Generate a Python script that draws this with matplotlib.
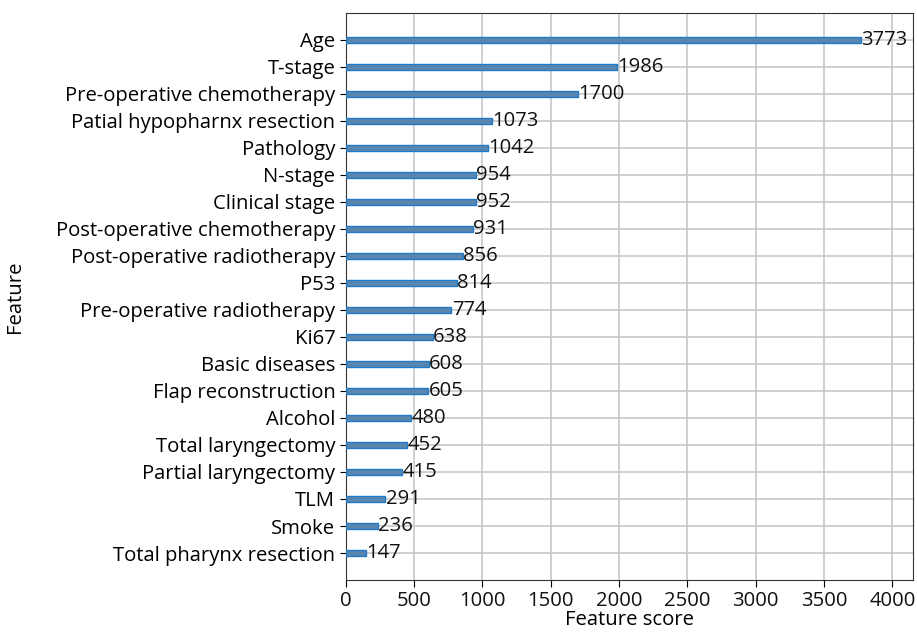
import matplotlib
matplotlib.use("Agg")
import matplotlib.pyplot as plt

plt.rcParams['font.family'] = ['Open Sans', 'DejaVu Sans']

features = [
    "Total pharynx resection", "Smoke", "TLM", "Partial laryngectomy",
    "Total laryngectomy", "Alcohol", "Flap reconstruction", "Basic diseases",
    "Ki67", "Pre-operative radiotherapy", "P53", "Post-operative radiotherapy",
    "Post-operative chemotherapy", "Clinical stage", "N-stage", "Pathology",
    "Patial hypopharnx resection", "Pre-operative chemotherapy", "T-stage", "Age",
]
scores = [147, 236, 291, 415, 452, 480, 605, 608, 638, 774,
          814, 856, 931, 952, 954, 1042, 1073, 1700, 1986, 3773]

FS = 14.6

fig = plt.figure(figsize=(9.17, 6.36), dpi=100)
ax = fig.add_axes([0.377, 0.088, 0.6186, 0.892])

ylocs = list(range(len(scores)))
ax.barh(ylocs, scores, height=0.22, align='center', color='#5a86ad',
        edgecolor='#1f7acb', linewidth=1.0, zorder=3)
for y, v in zip(ylocs, scores):
    ax.text(v + 1, y, str(v), va='center', ha='left', fontsize=FS,
            color='#111111', zorder=4)

ax.set_yticks(ylocs)
ax.set_yticklabels(features, fontsize=FS, color='#000000')
ax.set_xlim(0, max(scores) * 1.1)
ax.set_ylim(-1, len(scores))
ax.set_xticks([0, 500, 1000, 1500, 2000, 2500, 3000, 3500, 4000])
ax.tick_params(axis='x', labelsize=FS, labelcolor='#111111', length=5, pad=3)
ax.tick_params(axis='y', length=4)
ax.set_xlabel("Feature score", fontsize=FS, labelpad=-1)
ax.set_ylabel("Feature", fontsize=FS, labelpad=22)
ax.grid(True, color='#c8c8c8', linewidth=1.2, zorder=0)
ax.set_axisbelow(True)
for s in ax.spines.values():
    s.set_color('#333333')

fig.savefig("out.png", dpi=100)
